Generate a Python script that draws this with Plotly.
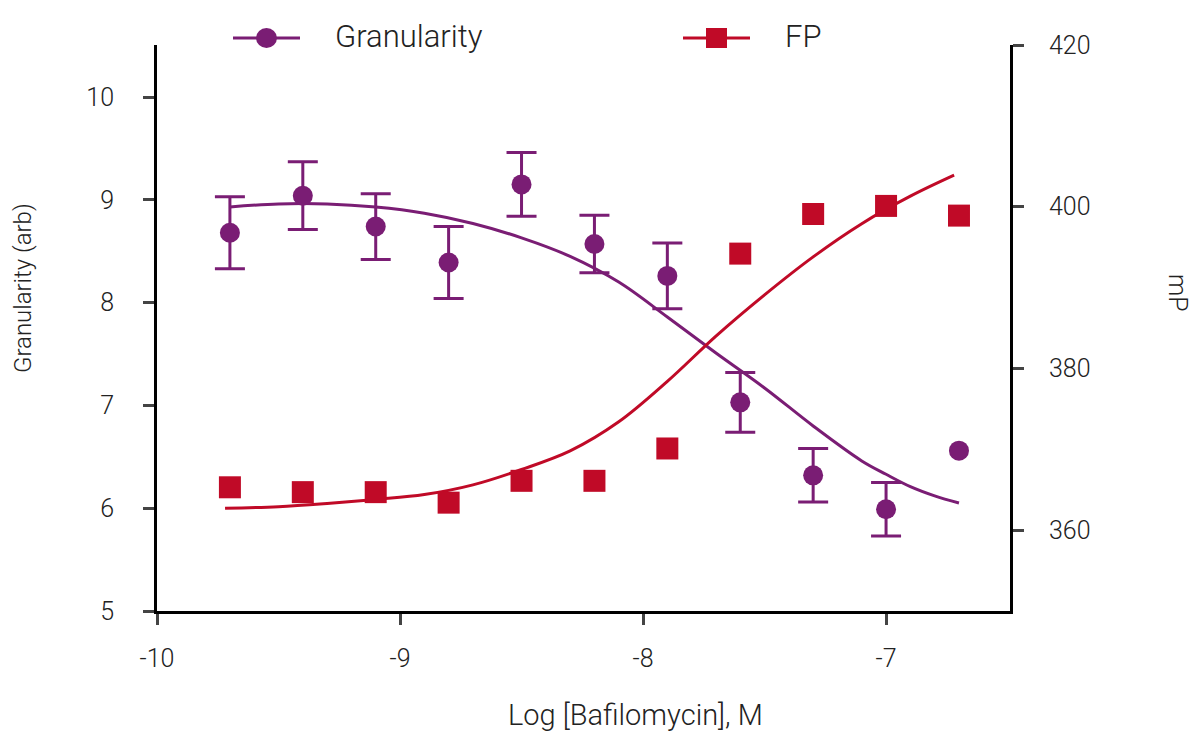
import plotly.graph_objects as go

# measured points
dose = [-9.7, -9.4, -9.1, -8.8, -8.5, -8.2, -7.9, -7.6, -7.3, -7.0, -6.7]
gran = [8.68, 9.04, 8.74, 8.39, 9.15, 8.57, 8.26, 7.03, 6.32, 5.99, 6.56]
gran_err = [0.35, 0.33, 0.32, 0.35, 0.31, 0.28, 0.32, 0.29, 0.26, 0.26, 0.0]
fp = [365.3, 364.7, 364.7, 363.4, 366.1, 366.1, 370.1, 394.2, 399.1, 400.1, 398.9]

# fitted curves
fit_x = [-9.7, -9.5, -9.3, -9.1, -8.9, -8.7, -8.5, -8.3, -8.1, -7.9,
         -7.7, -7.5, -7.3, -7.1, -7.0, -6.9, -6.8, -6.7]
gran_fit = [8.93, 8.96, 8.96, 8.93, 8.87, 8.77, 8.63, 8.45, 8.20, 7.86,
            7.51, 7.17, 6.80, 6.46, 6.33, 6.21, 6.12, 6.05]
fp_x = [-9.72, -9.5, -9.3, -9.1, -8.9, -8.7, -8.5, -8.3, -8.1, -7.9,
        -7.7, -7.5, -7.3, -7.1, -6.9, -6.72]
fp_fit = [362.7, 362.9, 363.3, 363.8, 364.4, 365.6, 367.5, 369.8, 373.4, 378.4,
          384.0, 389.1, 393.8, 397.9, 401.3, 403.9]

xtick_vals = [-10, -9, -8, -7]
xtick_text = ["-10", "-9", "-8", "-7"]

purple = "#7a1d74"
red = "#c00a27"
font = "Roboto"
txt = "#222222"

fig = go.Figure()

fig.add_trace(go.Scatter(x=fit_x, y=gran_fit, mode="lines", line=dict(color=purple, width=3, shape="spline"),
                         showlegend=False, hoverinfo="skip"))
fig.add_trace(go.Scatter(x=fp_x, y=fp_fit, mode="lines", line=dict(color=red, width=3, shape="spline"),
                         yaxis="y2", showlegend=False, hoverinfo="skip"))

# points with error bars, and those without (the last one has no bar)
with_bar = [i for i, e in enumerate(gran_err) if e > 0]
no_bar = [i for i, e in enumerate(gran_err) if e <= 0]
fig.add_trace(go.Scatter(x=[dose[i] for i in with_bar], y=[gran[i] for i in with_bar], mode="markers",
                         name="Granularity", marker=dict(color=purple, size=20, symbol="circle"),
                         error_y=dict(type="data", array=[gran_err[i] for i in with_bar], color=purple,
                                      thickness=3, width=15),
                         showlegend=False))
fig.add_trace(go.Scatter(x=[dose[i] for i in no_bar], y=[gran[i] for i in no_bar], mode="markers",
                         name="Granularity", marker=dict(color=purple, size=20, symbol="circle"),
                         showlegend=False))
fig.add_trace(go.Scatter(x=dose, y=fp, mode="markers", name="FP",
                         marker=dict(color=red, size=22, symbol="square"),
                         yaxis="y2", showlegend=False))

# the page has an 8px body margin, so the figure starts at (8, 8) in the window
off = 8
pl, pt, pr, pb = 157 - off, 45 - off, 1010 - off, 611 - off
W, H = 1200 - 2 * off, 756 - 2 * off
pw, ph = pr - pl, pb - pt


def px(x):
    return (x - off - pl) / pw


def py(y):
    return (pb - (y - off)) / ph


# legend drawn by hand: line, marker, label (pixel offsets from plot top-left)
legend_items = [("Granularity", purple, "circle", 233, 333), ("FP", red, "rect", 683, 783)]
for name, col, sym, lx, tx in legend_items:
    fig.add_shape(type="line", xref="paper", yref="paper", xsizemode="pixel", ysizemode="pixel",
                  xanchor=0, yanchor=1, x0=lx - 157, x1=lx - 157 + 67, y0=7, y1=7,
                  line=dict(color=col, width=3))
    fig.add_shape(type=sym, xref="paper", yref="paper", xsizemode="pixel", ysizemode="pixel",
                  xanchor=0, yanchor=1, x0=lx - 157 + 23, x1=lx - 157 + 44, y0=-3, y1=17,
                  fillcolor=col, line=dict(width=0))
    fig.add_annotation(text=name, xref="paper", yref="paper", x=px(tx), y=py(37),
                       xanchor="left", yanchor="middle", showarrow=False,
                       font=dict(family=font, size=31, color=txt, weight=300))

axis_font = dict(family=font, size=25, color=txt, weight=300)

# axis titles placed where the reference has them
fig.add_annotation(text="Granularity (arb)", xref="paper", yref="paper", x=px(23), y=py(288),
                   textangle=-90, showarrow=False, xanchor="center", yanchor="middle",
                   font=dict(family=font, size=24, color=txt, weight=300))
fig.add_annotation(text="mP", xref="paper", yref="paper", x=px(1178), y=py(293),
                   textangle=90, showarrow=False, xanchor="center", yanchor="middle", font=axis_font)
fig.add_annotation(text="Log [Bafilomycin], M", xref="paper", yref="paper", x=px(635), y=py(715),
                   showarrow=False, xanchor="center", yanchor="middle",
                   font=dict(family=font, size=29, color=txt, weight=300))

common = dict(ticks="outside", ticklen=11, tickwidth=3, showline=True, linewidth=3, linecolor="black",
              showgrid=False, zeroline=False, automargin=False, tickfont=axis_font)
fig.update_layout(
    width=W, height=H,
    margin=dict(l=pl, r=W - pr, t=pt, b=H - pb),
    plot_bgcolor="white", paper_bgcolor="white",
    font=axis_font,
    xaxis=dict(range=[-10, -6.49], tickvals=xtick_vals, ticktext=xtick_text, ticklabelstandoff=12, **common),
    yaxis=dict(range=[5, 10.506], tickvals=[5, 6, 7, 8, 9, 10], ticklabelstandoff=24, **common),
    yaxis2=dict(range=[350, 420], tickvals=[360, 380, 400, 420], overlaying="y", side="right",
                ticklabelstandoff=20, **common),
)

fig.write_html("out.html")
